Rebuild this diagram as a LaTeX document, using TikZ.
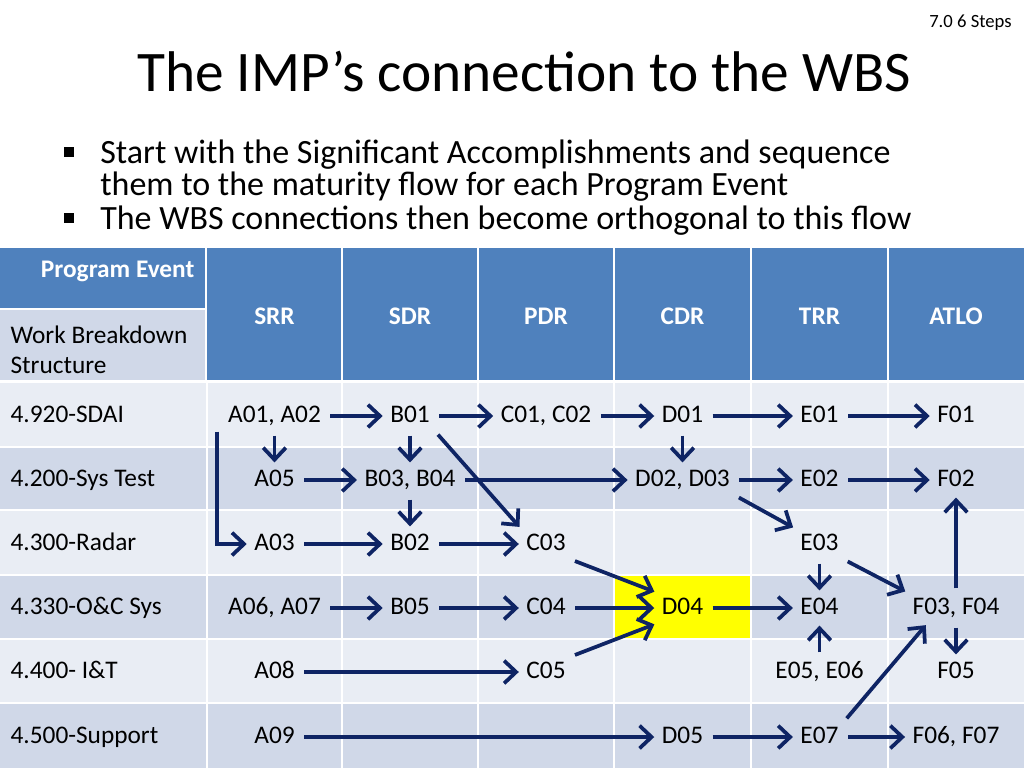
\documentclass[tikz,border=0pt]{standalone}
\usepackage{fontspec}
\setmainfont{Carlito}
\usetikzlibrary{arrows.meta, calc}
\definecolor{hdrblue}{RGB}{79,129,189}
\definecolor{rowlight}{RGB}{233,237,244}
\definecolor{rowdark}{RGB}{208,216,232}
\definecolor{flowblue}{RGB}{14,36,100}
\definecolor{hilite}{RGB}{255,255,0}
\newcommand{\hdr}[1]{{\bfseries #1}}
\newcommand{\tablefont}{\fontsize{19}{22.5}\selectfont}

\begin{document}
\begin{tikzpicture}[
    x=0.75pt, y=-0.75pt,
    cellline/.style={white, line width=1.5pt},
    task/.style={
        font=\tablefont,
        text height=12.5pt,
        text depth=2.5pt,
        inner sep=4pt
    },
    rowlab/.style={task, anchor=west},
    colhead/.style={task, text=white, font=\tablefont\bfseries},
    sqbullet/.style={fill=black, minimum size=7.5pt, inner sep=0pt},
    bullettxt/.style={anchor=base west, inner sep=0pt, font=\fontsize{25.5}{28}\selectfont},
    flow/.style={
        draw=flowblue,
        line width=2.8pt,
        shorten <=3pt,
        shorten >=1.5pt,
        -{Straight Barb[length=9pt, width=17pt]}
    }
]
    \useasboundingbox (0,0) rectangle (1024,768);

    % --- Title and bullets ---
    \node[anchor=base east, inner sep=0pt, font=\fontsize{14}{16}\selectfont] (tag) at (1012,27) {7.0 6 Steps};
    \node[anchor=base, inner sep=0pt, font=\fontsize{43}{50}\selectfont] (title) at (524,91) {The IMP’s connection to the WBS};

    \node[sqbullet] (dot1) at (69,152) {};
    \node[bullettxt] (line1) at (100,163) {Start with the Significant Accomplishments and sequence};
    \node[bullettxt] (line1b) at (100,195) {them to the maturity flow for each Program Event};
    \node[sqbullet] (dot2) at (69,218) {};
    \node[bullettxt] (line2) at (100,229) {The WBS connections then become orthogonal to this flow};

    % --- Table background ---
    \fill[hdrblue] (0,248) rectangle (205,308);
    \fill[rowdark] (0,310) rectangle (205,380);
    \fill[hdrblue] (207,248) rectangle (1024,380);
    \fill[rowlight] (0,383) rectangle (1024,447);
    \fill[rowdark]  (0,447) rectangle (1024,510);
    \fill[rowlight] (0,510) rectangle (1024,575);
    \fill[rowdark]  (0,575) rectangle (1024,639);
    \fill[rowlight] (0,639) rectangle (1024,703);
    \fill[rowdark]  (0,703) rectangle (1024,768);
    \fill[hilite] (614,575) rectangle (751,639);

    % grid lines
    \draw[cellline] (0,447) -- (1024,447);
    \draw[cellline] (0,510) -- (1024,510);
    \draw[cellline] (0,575) -- (1024,575);
    \draw[cellline] (0,639) -- (1024,639);
    \draw[cellline] (0,703) -- (1024,703);
    \draw[cellline] (207,383) -- (207,768);
    \draw[cellline] (342,248) -- (342,768);
    \draw[cellline] (478,248) -- (478,768);
    \draw[cellline] (614,248) -- (614,768);
    \draw[cellline] (751,248) -- (751,768);
    \draw[cellline] (888,248) -- (888,768);

    % --- Header cells ---
    \node[colhead, anchor=east] (pevent) at (200,271) {Program Event};
    \node[task, anchor=west, align=left, text height=, text depth=] (wbs) at (5,350) {Work Breakdown\\Structure};
    \node[colhead] (srr)  at (274.5,318) {SRR};
    \node[colhead] (sdr)  at (410,318) {SDR};
    \node[colhead] (pdr)  at (546,318) {PDR};
    \node[colhead] (cdr)  at (682.5,318) {CDR};
    \node[colhead] (trr)  at (819.5,318) {TRR};
    \node[colhead] (atlo) at (956,318) {ATLO};

    % --- Row labels ---
    \node[rowlab] (sdai)    at (5,416) {4.920-SDAI};
    \node[rowlab] (systest) at (5,480) {4.200-Sys Test};
    \node[rowlab] (radar)   at (5,544) {4.300-Radar};
    \node[rowlab] (ocsys)   at (5,608) {4.330-O\&C Sys};
    \node[rowlab] (iandt)   at (5,672) {4.400- I\&T};
    \node[rowlab] (support) at (5,737) {4.500-Support};

    % --- Significant accomplishments ---
    \node[task] (a0102) at (274.5,416) {A01, A02};
    \node[task] (b01)   at (410,416)   {B01};
    \node[task] (c0102) at (546,416)   {C01, C02};
    \node[task] (d01)   at (682.5,416) {D01};
    \node[task] (e01)   at (819.5,416) {E01};
    \node[task] (f01)   at (956,416)   {F01};

    \node[task] (a05)   at (274.5,480) {A05};
    \node[task] (b0304) at (410,480)   {B03, B04};
    \node[task] (d0203) at (682.5,480) {D02, D03};
    \node[task] (e02)   at (819.5,480) {E02};
    \node[task] (f02)   at (956,480)   {F02};

    \node[task] (a03)   at (274.5,544) {A03};
    \node[task] (b02)   at (410,544)   {B02};
    \node[task] (c03)   at (546,544)   {C03};
    \node[task] (e03)   at (819.5,544) {E03};

    \node[task] (a0607) at (274.5,608) {A06, A07};
    \node[task] (b05)   at (410,608)   {B05};
    \node[task] (c04)   at (546,608)   {C04};
    \node[task] (d04)   at (682.5,608) {D04};
    \node[task] (e04)   at (819.5,608) {E04};
    \node[task] (f0304) at (956,608)   {F03, F04};

    \node[task] (a08)   at (274.5,672) {A08};
    \node[task] (c05)   at (546,672)   {C05};
    \node[task] (e0506) at (819.5,672) {E05, E06};
    \node[task] (f05)   at (956,672)   {F05};

    \node[task] (a09)   at (274.5,737) {A09};
    \node[task] (d05)   at (682.5,737) {D05};
    \node[task] (e07)   at (819.5,737) {E07};
    \node[task] (f0607) at (956,737)   {F06, F07};

    % --- Maturity flow ---
    \draw[flow] (a0102) -- (b01);
    \draw[flow] (b01) -- (c0102);
    \draw[flow] (c0102) -- (d01);
    \draw[flow] (d01) -- (e01);
    \draw[flow] (e01) -- (f01);
    \draw[flow] (a0102) -- (a05);
    \draw[flow] (b01) -- (b0304);
    \draw[flow] (b01.south east) -- (c03.north west);
    \draw[flow] (d01) -- (d0203);

    \draw[flow] (a05) -- (b0304);
    \draw[flow] (b0304) -- (d0203);
    \draw[flow] (d0203) -- (e02);
    \draw[flow] (e02) -- (f02);
    \draw[flow] (d0203.south east) -- (e03.north west);
    \draw[flow] (b0304) -- (b02);

    \draw[flow, shorten <=0pt] ([xshift=-4pt]a0102.south west) |- (a03);
    \draw[flow] (a03) -- (b02);
    \draw[flow] (b02) -- (c03);
    \draw[flow] (c03.south east) -- (d04.north west);
    \draw[flow] (e03) -- (e04);
    \draw[flow] (e03.south east) -- (f0304.north west);

    \draw[flow] (a0607) -- (b05);
    \draw[flow] (b05) -- (c04);
    \draw[flow] (c04) -- (d04);
    \draw[flow] (d04) -- (e04);
    \draw[flow] (f0304) -- (f02);
    \draw[flow] (f0304) -- (f05);

    \draw[flow] (a08) -- (c05);
    \draw[flow] (c05.north east) -- (d04.south west);
    \draw[flow] (e0506) -- (e04);

    \draw[flow] (a09) -- (d05);
    \draw[flow] (d05) -- (e07);
    \draw[flow] (e07) -- (f0607);
    \draw[flow] (e07.north east) -- ([xshift=15pt]f0304.south west);

\end{tikzpicture}
\end{document}
